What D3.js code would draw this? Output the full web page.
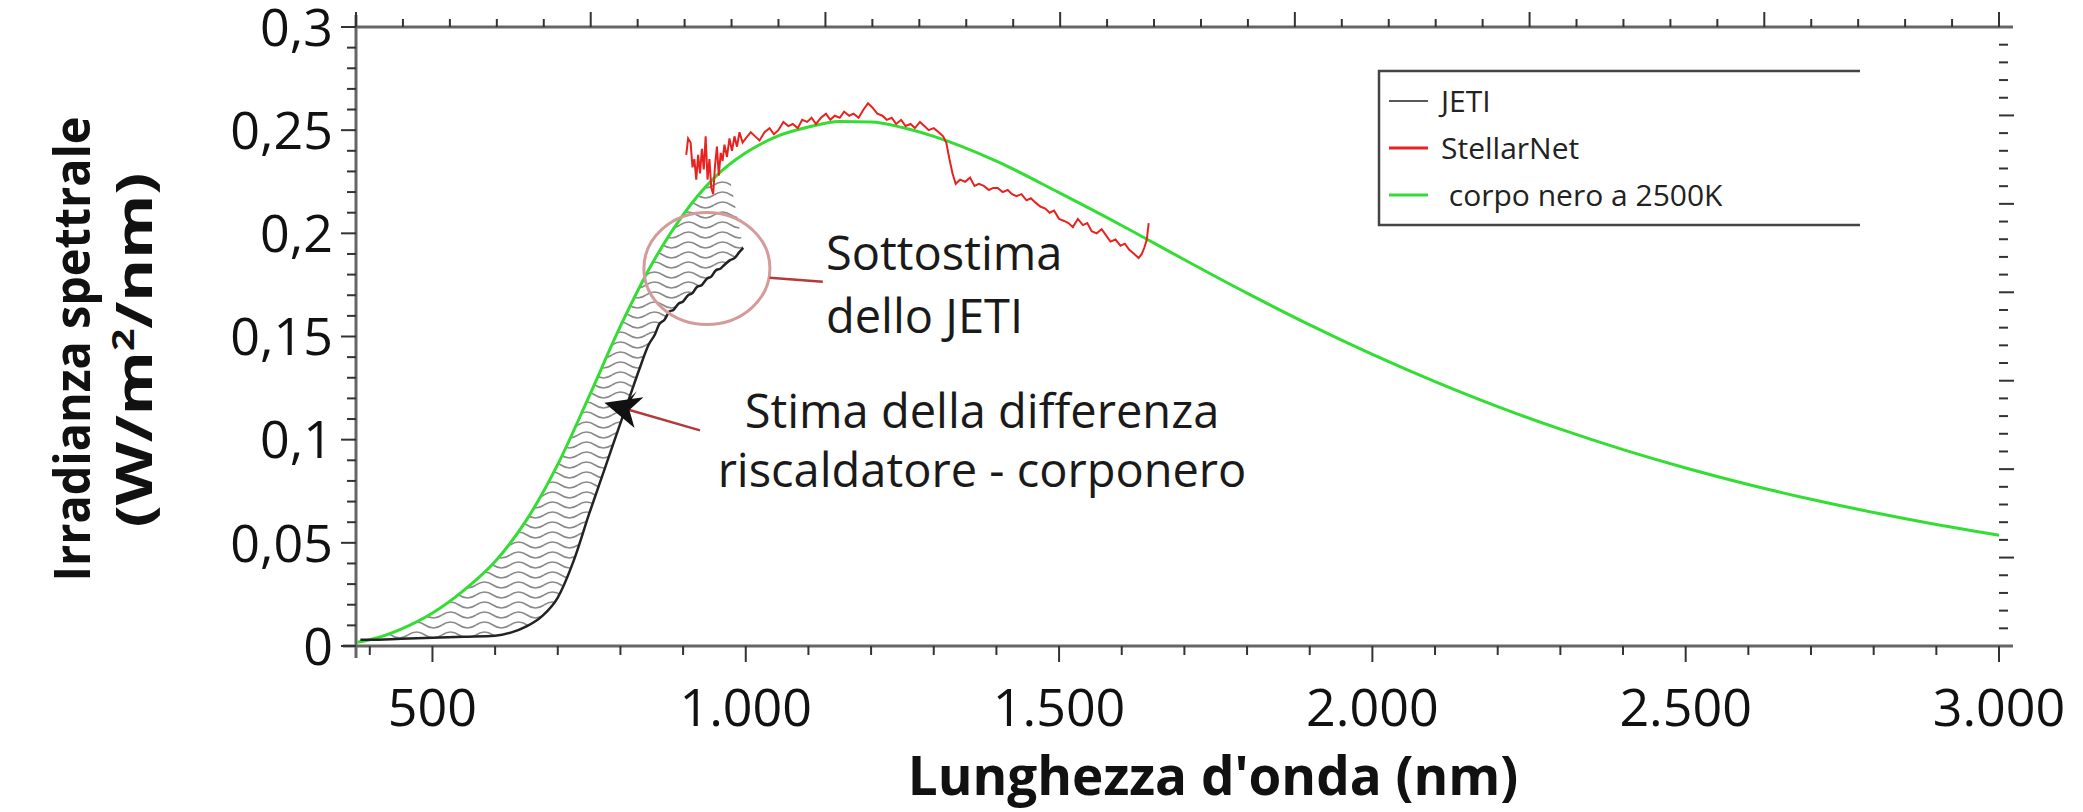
<!DOCTYPE html>
<html>
<head>
<meta charset="utf-8">
<script src="https://cdn.jsdelivr.net/npm/d3@7"></script>
<style>
  body { margin: 0; background: #fff; }
  text { font-family: "Open Sans", sans-serif; }
</style>
</head>
<body>
<div id="chart"></div>
<script>
// Blackbody at 2500K (green), wavelength in nm, irradiance in W/m2/nm
var bbWave  = [380, 400, 450, 500, 550, 600, 650, 700, 750, 800, 850, 900, 950, 1000, 1050, 1100, 1150, 1200, 1250, 1300, 1400, 1500, 1600, 1700, 1800, 1900, 2000, 2100, 2200, 2300, 2400, 2500, 2600, 2700, 2800, 2900, 3000];
var bbValue = [0.0018, 0.003, 0.0082, 0.016, 0.027, 0.041, 0.061, 0.088, 0.121, 0.155, 0.185, 0.209, 0.227, 0.239, 0.247, 0.2515, 0.2542, 0.254, 0.2513, 0.247, 0.235, 0.2197, 0.2038, 0.1872, 0.171, 0.1556, 0.1413, 0.1281, 0.116, 0.1051, 0.0952, 0.0863, 0.0783, 0.0711, 0.0647, 0.0589, 0.0537];

// JETI (black)
var jetiWave  = [385, 400, 450, 500, 550, 600, 625, 650, 675, 700, 725, 750, 775, 800, 815, 830, 845, 855, 862, 870, 878, 885, 893, 900, 908, 915, 922, 930, 938, 945, 952, 960, 967, 975, 982, 990, 996];
var jetiValue = [0.003, 0.003, 0.0035, 0.004, 0.0045, 0.005, 0.0065, 0.0095, 0.0145, 0.0235, 0.041, 0.064, 0.086, 0.108, 0.121, 0.134, 0.146, 0.151, 0.156, 0.158, 0.162, 0.163, 0.166, 0.167, 0.170, 0.171, 0.174, 0.175, 0.178, 0.179, 0.182, 0.183, 0.185, 0.187, 0.188, 0.191, 0.193];

// StellarNet (red)
var stellarWave  = [905, 908, 912, 915, 918, 921, 924, 927, 930, 933, 936, 939, 942, 945, 948, 951, 954, 957, 960, 963, 966, 970, 974, 978, 982, 986, 990, 995, 1000, 1008, 1015, 1022, 1030, 1038, 1045, 1052, 1060, 1068, 1075, 1083, 1090, 1098, 1105, 1112, 1120, 1128, 1135, 1142, 1150, 1157, 1165, 1172, 1180, 1188, 1195, 1202, 1210, 1218, 1225, 1233, 1240, 1248, 1255, 1263, 1270, 1278, 1285, 1292, 1300, 1308, 1315, 1320, 1325, 1330, 1335, 1342, 1350, 1358, 1365, 1372, 1380, 1388, 1395, 1402, 1410, 1418, 1425, 1432, 1440, 1448, 1455, 1462, 1470, 1478, 1485, 1492, 1500, 1508, 1515, 1522, 1530, 1538, 1545, 1552, 1560, 1568, 1575, 1582, 1590, 1598, 1605, 1612, 1620, 1627, 1632, 1636, 1640, 1643];
var stellarValue = [0.238, 0.246, 0.244, 0.232, 0.236, 0.226, 0.238, 0.229, 0.241, 0.231, 0.247, 0.226, 0.236, 0.222, 0.219, 0.233, 0.242, 0.228, 0.239, 0.235, 0.243, 0.237, 0.246, 0.240, 0.247, 0.242, 0.249, 0.244, 0.246, 0.249, 0.247, 0.245, 0.249, 0.251, 0.248, 0.250, 0.254, 0.252, 0.253, 0.251, 0.255, 0.254, 0.256, 0.253, 0.256, 0.258, 0.255, 0.257, 0.256, 0.259, 0.257, 0.258, 0.256, 0.260, 0.263, 0.261, 0.258, 0.257, 0.255, 0.256, 0.253, 0.255, 0.252, 0.253, 0.251, 0.254, 0.252, 0.250, 0.251, 0.249, 0.247, 0.244, 0.236, 0.229, 0.224, 0.226, 0.225, 0.227, 0.223, 0.224, 0.223, 0.221, 0.222, 0.222, 0.220, 0.221, 0.219, 0.218, 0.219, 0.216, 0.217, 0.215, 0.213, 0.212, 0.210, 0.211, 0.207, 0.206, 0.205, 0.203, 0.207, 0.204, 0.205, 0.201, 0.200, 0.202, 0.199, 0.196, 0.197, 0.194, 0.195, 0.192, 0.190, 0.188, 0.190, 0.193, 0.197, 0.205];

// right edge of the hatched zone, between the green and the black curves
var hatchEdgeWave  = [975];
var hatchEdgeValue = [0.226];

var xTicks = [500, 1000, 1500, 2000, 2500, 3000];
var yTicks = [0, 0.05, 0.1, 0.15, 0.2, 0.25, 0.3];
var seriesNames  = ["JETI", "StellarNet", " corpo nero a 2500K"];
var seriesColors = ["#222222", "#e8231f", "#33dd33"];

var width = 2083, height = 812;

var svg = d3.select("#chart").append("svg")
  .attr("width", width)
  .attr("height", height);

var x = d3.scaleLinear().domain([378, 3000]).range([356, 1999]);
var y = d3.scaleLinear().domain([0, 0.3]).range([646, 27]);

// secondary (unlabelled) axes on top and right
var xTop = d3.scaleLinear().domain([0, 35]).range(x.range());
var yRight = d3.scaleLinear().domain([0, 35]).range(y.range());

var itLocale = d3.formatLocale({ decimal: ",", thousands: ".", grouping: [3], currency: ["", "€"] });
var fmtX = itLocale.format(",d");
var fmtY = itLocale.format("~g");

// hatch pattern made of wavy lines
var defs = svg.append("defs");
var pattern = defs.append("pattern")
  .attr("id", "waves")
  .attr("patternUnits", "userSpaceOnUse")
  .attr("width", 34)
  .attr("height", 10);
pattern.append("path")
  .attr("d", "M0 5 Q8.5 -1 17 5 T34 5")
  .attr("fill", "none")
  .attr("stroke", "#8a8a8a")
  .attr("stroke-width", 1.6);

// hatched zone
var hatchPts = bbWave.map(function(w, i) { return [w, bbValue[i]]; })
  .filter(function(p) { return p[0] <= 950; })
  .concat(hatchEdgeWave.map(function(w, i) { return [w, hatchEdgeValue[i]]; }))
  .concat(jetiWave.map(function(w, i) { return [w, jetiValue[i]]; }).reverse());

svg.append("path")
  .attr("d", d3.line().x(function(d) { return x(d[0]); }).y(function(d) { return y(d[1]); })(hatchPts) + "Z")
  .attr("fill", "url(#waves)")
  .attr("stroke", "none");

// axis lines
var axisColor = "#666";
svg.append("line").attr("x1", x.range()[0]).attr("x2", x.range()[0])
  .attr("y1", y.range()[0] + 12).attr("y2", y.range()[1] - 12)
  .attr("stroke", axisColor).attr("stroke-width", 3);
svg.append("line").attr("x1", x.range()[0] - 13).attr("x2", x.range()[1] + 14)
  .attr("y1", y.range()[0]).attr("y2", y.range()[0])
  .attr("stroke", axisColor).attr("stroke-width", 3);
svg.append("line").attr("x1", x.range()[0]).attr("x2", x.range()[1] + 14)
  .attr("y1", y.range()[1]).attr("y2", y.range()[1])
  .attr("stroke", axisColor).attr("stroke-width", 3);

// ticks
var tickG = svg.append("g").attr("stroke", "#333").attr("stroke-width", 2);

// bottom
d3.range(400, 3001, 100).forEach(function(v) {
  var major = v % 500 === 0;
  tickG.append("line").attr("x1", x(v)).attr("x2", x(v))
    .attr("y1", y(0)).attr("y2", y(0) + (major ? 16 : 9));
});
// left
d3.range(0, 31).forEach(function(k) {
  var major = k % 5 === 0;
  var v = k / 100;
  tickG.append("line").attr("x1", x.range()[0]).attr("x2", x.range()[0] - (major ? 15 : 9))
    .attr("y1", y(v)).attr("y2", y(v));
});
// top
d3.range(0, 36).forEach(function(k) {
  var major = k % 5 === 0;
  tickG.append("line").attr("x1", xTop(k)).attr("x2", xTop(k))
    .attr("y1", y.range()[1]).attr("y2", y.range()[1] - (major ? 15 : 8));
});
// right (ticks only, no axis line)
d3.range(1, 35).forEach(function(k) {
  var major = k % 5 === 0;
  tickG.append("line").attr("x1", x.range()[1]).attr("x2", x.range()[1] + (major ? 15 : 9))
    .attr("y1", yRight(k)).attr("y2", yRight(k));
});

// tick labels
svg.append("g").selectAll("text")
  .data(xTicks)
  .enter().append("text")
  .attr("x", function(d) { return x(d); })
  .attr("y", 726)
  .attr("text-anchor", "middle")
  .style("font-size", "52px")
  .style("fill", "#111")
  .text(function(d) { return fmtX(d); });

svg.append("g").selectAll("text")
  .data(yTicks)
  .enter().append("text")
  .attr("x", 333)
  .attr("y", function(d) { return y(d); })
  .attr("dy", "0.36em")
  .attr("text-anchor", "end")
  .style("font-size", "52px")
  .style("fill", "#111")
  .text(function(d) { return fmtY(d); });

// axis titles
svg.append("text")
  .attr("x", 1213)
  .attr("y", 795)
  .attr("text-anchor", "middle")
  .style("font-size", "53px")
  .style("font-weight", "bold")
  .style("fill", "#111")
  .text("Lunghezza d'onda (nm)");

svg.append("text")
  .attr("transform", "translate(90,349) rotate(-90)")
  .attr("text-anchor", "middle")
  .attr("textLength", 465)
  .attr("lengthAdjust", "spacingAndGlyphs")
  .style("font-size", "50px")
  .style("font-weight", "bold")
  .style("fill", "#111")
  .text("Irradianza spettrale");

var yTitle2 = svg.append("text")
  .attr("transform", "translate(152,350) rotate(-90)")
  .attr("text-anchor", "middle")
  .attr("textLength", 355)
  .attr("lengthAdjust", "spacingAndGlyphs")
  .style("font-size", "50px")
  .style("font-weight", "bold")
  .style("fill", "#111");
yTitle2.append("tspan").text("(W/m");
yTitle2.append("tspan").attr("dy", -18).style("font-size", "30px").text("2");
yTitle2.append("tspan").attr("dy", 18).text("/nm)");

// series
function pts(w, v) { return w.map(function(d, i) { return [d, v[i]]; }); }
var lineGen = d3.line().x(function(d) { return x(d[0]); }).y(function(d) { return y(d[1]); });

svg.append("path")
  .attr("d", lineGen.curve(d3.curveMonotoneX)(pts(bbWave, bbValue)))
  .attr("fill", "none")
  .attr("stroke", seriesColors[2])
  .attr("stroke-width", 3);

svg.append("path")
  .attr("d", lineGen(pts(jetiWave, jetiValue)))
  .attr("fill", "none")
  .attr("stroke", seriesColors[0])
  .attr("stroke-width", 2.5);

lineGen.curve(d3.curveLinear);
svg.append("path")
  .attr("d", lineGen(pts(stellarWave, stellarValue)))
  .attr("fill", "none")
  .attr("stroke", seriesColors[1])
  .attr("stroke-width", 2);

// annotation: circle around the JETI underestimate
var ann = svg.append("g");
ann.append("ellipse")
  .attr("cx", x(938)).attr("cy", y(0.183))
  .attr("rx", 63).attr("ry", 56)
  .attr("fill", "none")
  .attr("stroke", "#d59a9a")
  .attr("stroke-width", 3);
ann.append("line")
  .attr("x1", x(1038)).attr("y1", y(0.1785))
  .attr("x2", x(1123)).attr("y2", y(0.1765))
  .attr("stroke", "#b23a3a").attr("stroke-width", 2.5);

// arrow towards the hatched zone
var arrowFrom = [927, 0.1045], arrowTo = [802, 0.1155];
ann.append("line")
  .attr("x1", x(arrowFrom[0])).attr("y1", y(arrowFrom[1]))
  .attr("x2", x(arrowTo[0])).attr("y2", y(arrowTo[1]))
  .attr("stroke", "#b23a3a").attr("stroke-width", 2.5);
var ang = Math.atan2(y(arrowTo[1]) - y(arrowFrom[1]), x(arrowTo[0]) - x(arrowFrom[0])) * 180 / Math.PI;
ann.append("path")
  .attr("d", "M-18,0 L18,-16 L8,0 L18,16 Z M0,-3 L10,-20 L4,0 Z")
  .attr("transform", "translate(" + x(arrowTo[0]) + "," + y(arrowTo[1]) + ") rotate(" + (ang + 180) + ")")
  .attr("fill", "#111");

var annText = [
  { t: "Sottostima", w: 1128, v: 0.182, a: "start" },
  { t: "dello JETI", w: 1128, v: 0.1517, a: "start" },
  { t: "Stima della differenza", w: 1377, v: 0.1056, a: "middle" },
  { t: "riscaldatore - corponero", w: 1377, v: 0.0772, a: "middle" }
];
ann.selectAll("text.ann")
  .data(annText)
  .enter().append("text")
  .attr("class", "ann")
  .attr("x", function(d) { return x(d.w); })
  .attr("y", function(d) { return y(d.v); })
  .attr("text-anchor", function(d) { return d.a; })
  .style("font-size", "47px")
  .style("fill", "#1a1a1a")
  .text(function(d) { return d.t; });

// legend
var legend = svg.append("g");
legend.append("path")
  .attr("d", "M1860,71 H1379 V225 H1860")
  .attr("fill", "none")
  .attr("stroke", "#444")
  .attr("stroke-width", 2.5);
var items = legend.selectAll("g.item")
  .data(seriesNames)
  .enter().append("g")
  .attr("class", "item")
  .attr("transform", function(d, i) { return "translate(0," + (101 + i * 47) + ")"; });
items.append("line")
  .attr("x1", 1389).attr("x2", 1428)
  .attr("stroke", function(d, i) { return seriesColors[i]; })
  .attr("stroke-width", function(d, i) { return i === 0 ? 1.5 : 3; });
items.append("text")
  .attr("x", 1441)
  .attr("dy", "0.35em")
  .style("font-size", "30px")
  .style("fill", "#222")
  .style("white-space", "pre")
  .text(function(d) { return d; });
</script>
</body>
</html>
